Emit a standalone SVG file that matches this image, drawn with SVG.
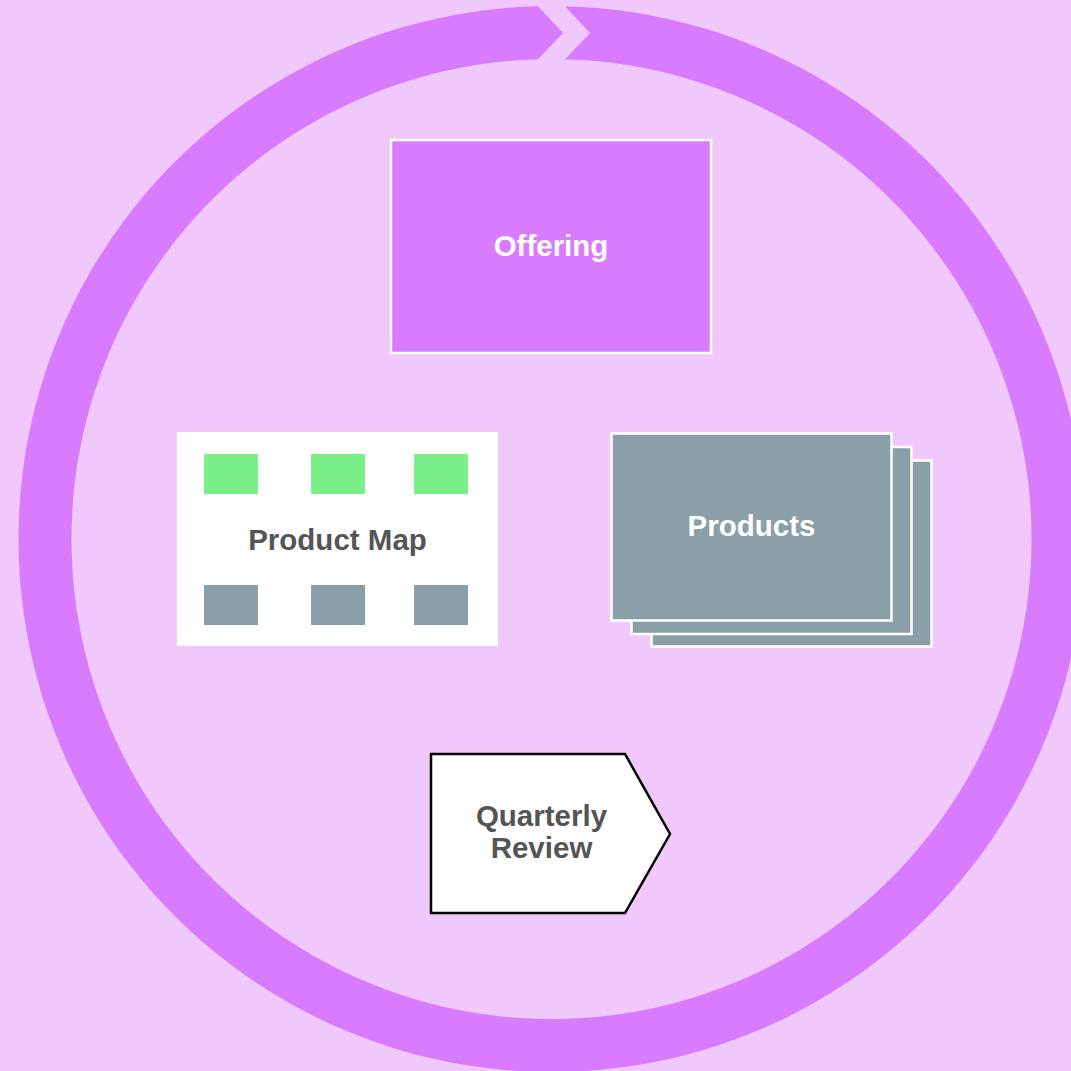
<svg xmlns="http://www.w3.org/2000/svg" width="1071" height="1071" viewBox="0 0 1071 1071">
<style>
.lbl{font-family:"Liberation Sans",Arial,sans-serif;font-weight:bold;font-size:29.5px;text-anchor:middle}
.w{fill:#FFFFFF}
.g{fill:#555555}
.grey{fill:#8A9FA8}
.green{fill:#7AF08B}
.stackrect{fill:#8A9FA8;stroke:#FFFFFF;stroke-width:2.5}
</style>
<rect x="0" y="0" width="1071" height="1071" fill="#F0C8FC"/>
<g id="cycle">
<path d="M 565 6.2 A 533 533 0 1 1 538 6.2 L 563 33 L 538 59.2 A 480 480 0 1 0 565 59.2 L 590 33 Z" fill="#D97BFF"/>
</g>
<g id="offering">
<rect x="391" y="140" width="320" height="213" fill="#D97BFF" stroke="#FFFFFF" stroke-width="2.5"/>
<text class="lbl w" x="551" y="256">Offering</text>
</g>
<g id="product-map">
<rect x="177" y="432" width="321" height="214" fill="#FFFFFF"/>
<rect class="green" x="204" y="454" width="54" height="40"/>
<rect class="green" x="311" y="454" width="54" height="40"/>
<rect class="green" x="414" y="454" width="54" height="40"/>
<rect class="grey" x="204" y="585" width="54" height="40"/>
<rect class="grey" x="311" y="585" width="54" height="40"/>
<rect class="grey" x="414" y="585" width="54" height="40"/>
<text class="lbl g" x="337.5" y="550">Product Map</text>
</g>
<g id="products">
<rect class="stackrect" x="651.5" y="460.5" width="280" height="186"/>
<rect class="stackrect" x="631.5" y="447" width="280" height="187"/>
<rect class="stackrect" x="611.5" y="433.5" width="280" height="187"/>
<text class="lbl w" x="751.5" y="536">Products</text>
</g>
<g id="quarterly-review">
<polygon points="431,754 625,754 670,834 625,913 431,913" fill="#FFFFFF" stroke="#000000" stroke-width="2.5"/>
<text class="lbl g" x="541.5" y="826">Quarterly</text>
<text class="lbl g" x="541.5" y="858">Review</text>
</g>
<g id="connectors"></g>
</svg>
